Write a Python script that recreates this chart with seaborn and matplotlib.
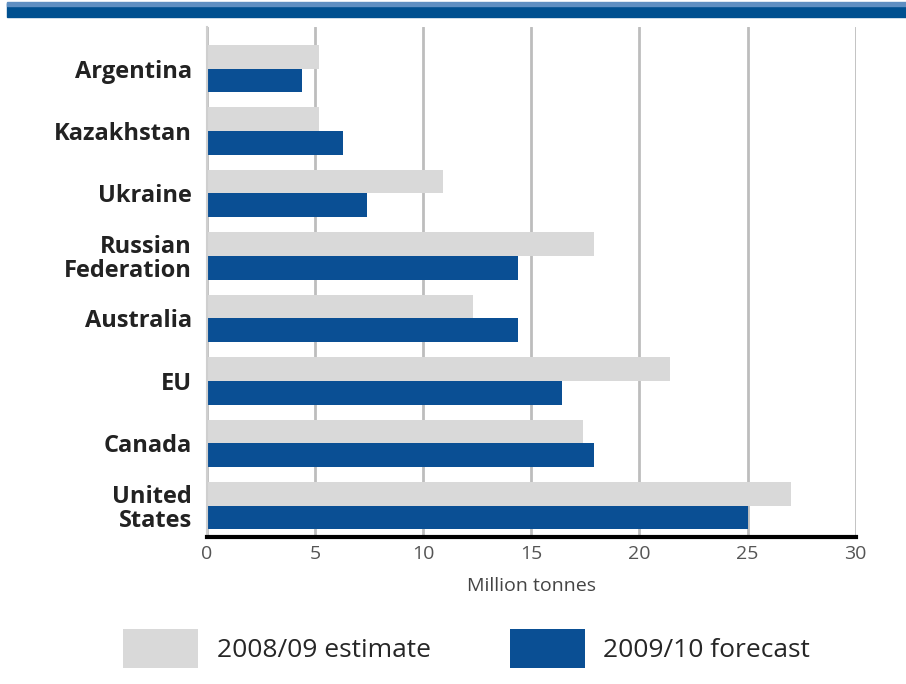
import matplotlib
matplotlib.use("Agg")
import matplotlib.pyplot as plt
import matplotlib.patches as mpatches
import seaborn as sns
import pandas as pd

countries = ["Argentina", "Kazakhstan", "Ukraine", "Russian\nFederation",
             "Australia", "EU", "Canada", "United\nStates"]
est_2008 = [5.2, 5.2, 10.9, 17.9, 12.3, 21.4, 17.4, 27.0]
fc_2009 = [4.4, 6.3, 7.4, 14.4, 14.4, 16.4, 17.9, 25.0]
series = ["2008/09 estimate", "2009/10 forecast"]
xticks = [0, 5, 10, 15, 20, 25, 30]

df = pd.DataFrame({
    "country": countries * 2,
    "value": est_2008 + fc_2009,
    "series": [series[0]] * len(countries) + [series[1]] * len(countries),
})

sns.set_theme(style="white")
plt.rcParams['font.family'] = ['Open Sans', 'DejaVu Sans']

gray = "#d9d9d9"
blue = "#0a4f94"

fig = plt.figure(figsize=(9.06, 6.84), dpi=100)
ax = fig.add_axes([0.2285, 0.215, 0.716, 0.745])

sns.barplot(data=df, y="country", x="value", hue="series", orient="h",
            palette=[gray, blue], width=0.76, gap=0, ax=ax, legend=False,
            saturation=1, linewidth=0, edgecolor="none")

ax.set_xlim(0, 30)
ax.set_ylim(7.5, -0.66)
ax.set_xticks(xticks)
ax.set_xticklabels([str(t) for t in xticks], fontsize=14, color="#555555")
ax.tick_params(axis="x", length=0, pad=6)
ax.tick_params(axis="y", length=0, pad=11)
for lab in ax.get_yticklabels():
    lab.set_fontsize(17)
    lab.set_fontweight("bold")
    lab.set_color("#222222")
    lab.set_linespacing(1.0)
ax.set_ylabel("")
ax.set_xlabel("Million tonnes", fontsize=14, color="#444444", labelpad=10)

ax.set_axisbelow(True)
ax.xaxis.grid(True, color="#bdbdbd", linewidth=2)
for s in ["top", "right"]:
    ax.spines[s].set_visible(False)
ax.spines["left"].set_color("#cfcfcf")
ax.spines["left"].set_linewidth(1.5)
ax.spines["bottom"].set_color("black")
ax.spines["bottom"].set_linewidth(3)

# top band
fig.patches.append(mpatches.Rectangle((0.008, 1 - 17 / 684), 0.992, 14 / 684,
                                      transform=fig.transFigure,
                                      color="#005090", zorder=0))
fig.patches.append(mpatches.Rectangle((0.008, 1 - 6 / 684), 0.992, 4 / 684,
                                      transform=fig.transFigure,
                                      color="#5f8fc2", zorder=0))

handles = [mpatches.Patch(facecolor=gray, edgecolor="none"),
           mpatches.Patch(facecolor=blue, edgecolor="none")]
fig.legend(handles, series, loc="lower center", bbox_to_anchor=(0.515, -0.012),
           ncol=2, frameon=False, fontsize=19, handlelength=2.85,
           handleheight=1.9, handletextpad=0.7, columnspacing=3.0)

fig.savefig("out.png", dpi=100)
